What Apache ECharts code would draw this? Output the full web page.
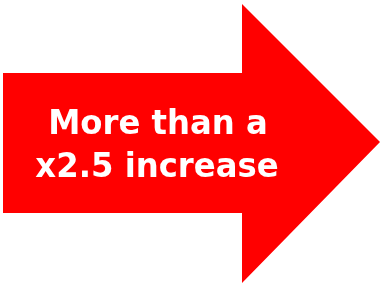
<!DOCTYPE html>
<html>
<head>
<meta charset="utf-8">
<script src="https://cdn.jsdelivr.net/npm/echarts@6/dist/echarts.min.js"></script>
<style>
  html, body { margin: 0; padding: 0; background: #fff; }
  #main { width: 380px; height: 285px; }
</style>
</head>
<body>
<div id="main"></div>
<script>
// arrow outline (x, y in picture units, y goes down)
var arrowX = [3, 242, 242, 380, 242, 242, 3];
var arrowY = [73, 73, 4, 142, 283, 213, 213];
// label lines
var labelLines = ['More than a', 'x2.5 increase'];
var labelX = [158, 157];
var labelY = [125.5, 168];

var chart = echarts.init(document.getElementById('main'));

var arrowData = arrowX.map(function (x, i) { return [x, arrowY[i]]; });
var labelData = labelLines.map(function (t, i) { return [labelX[i], labelY[i], t]; });

chart.setOption({
    animation: false,
    grid: { left: 0, right: 0, top: 0, bottom: 0 },
    xAxis: { type: 'value', min: 0, max: 380, show: false },
    yAxis: { type: 'value', min: 0, max: 285, inverse: true, show: false },
    series: [{
        type: 'custom',
        coordinateSystem: 'cartesian2d',
        data: [0],
        renderItem: function (params, api) {
            var pts = arrowData.map(function (p) { return api.coord(p); });
            return {
                type: 'polygon',
                shape: { points: pts },
                style: { fill: '#ff0000' }
            };
        }
    }, {
        type: 'custom',
        coordinateSystem: 'cartesian2d',
        data: labelData,
        renderItem: function (params, api) {
            var pt = api.coord([api.value(0), api.value(1)]);
            return {
                type: 'text',
                x: pt[0],
                y: pt[1],
                scaleX: 0.95,
                style: {
                    text: labelData[params.dataIndex][2],
                    fill: '#ffffff',
                    font: 'bold 34px "DejaVu Sans"',
                    align: 'center',
                    verticalAlign: 'middle'
                }
            };
        }
    }]
});
</script>
</body>
</html>
